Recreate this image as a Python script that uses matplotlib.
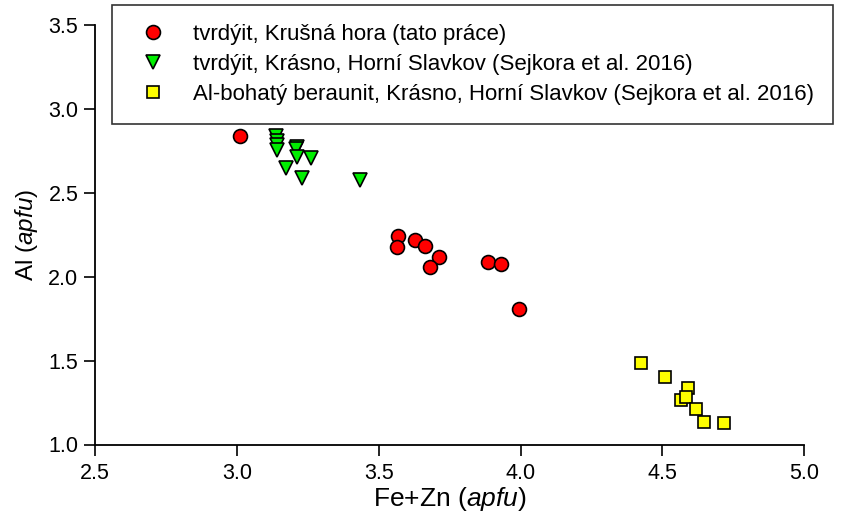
import matplotlib
matplotlib.use("Agg")
import matplotlib.pyplot as plt

plt.rcParams["font.family"] = ["Liberation Sans", "DejaVu Sans"]
plt.rcParams["mathtext.fontset"] = "custom"
plt.rcParams["mathtext.rm"] = "Liberation Sans"
plt.rcParams["mathtext.it"] = "Liberation Sans:italic"

# tvrdýit, Krušná hora (tato práce)
kh_fezn = [3.011, 3.569, 3.566, 3.629, 3.664, 3.711, 3.682, 3.885, 3.931, 3.995]
kh_al = [2.838, 2.244, 2.179, 2.220, 2.183, 2.119, 2.058, 2.089, 2.074, 1.809]

# tvrdýit, Krásno, Horní Slavkov (Sejkora et al. 2016)
kr_fezn = [3.138, 3.140, 3.140, 3.140, 3.213, 3.207, 3.213, 3.260, 3.173, 3.231, 3.435]
kr_al = [2.838, 2.810, 2.785, 2.755, 2.775, 2.761, 2.715, 2.706, 2.650, 2.590, 2.576]

# Al-bohatý beraunit, Krásno, Horní Slavkov (Sejkora et al. 2016)
ber_fezn = [4.425, 4.508, 4.591, 4.566, 4.582, 4.620, 4.648, 4.716]
ber_al = [1.484, 1.402, 1.335, 1.263, 1.281, 1.212, 1.132, 1.126]

labels = [
    "tvrdýit, Krušná hora (tato práce)",
    "tvrdýit, Krásno, Horní Slavkov (Sejkora et al. 2016)",
    "Al-bohatý beraunit, Krásno, Horní Slavkov (Sejkora et al. 2016)",
]
x_ticks = [2.5, 3.0, 3.5, 4.0, 4.5, 5.0]
y_ticks = [1.0, 1.5, 2.0, 2.5, 3.0, 3.5]

fig = plt.figure(figsize=(8.44, 5.21), dpi=100)
ax = fig.add_axes([95 / 844, 1 - 444.5 / 521, (804.3 - 95) / 844, (444.5 - 25) / 521])

ax.plot(kh_fezn, kh_al, "o", ms=10, mfc="red", mec="black", mew=1.2, label=labels[0], ls="none")
ax.plot(kr_fezn, kr_al, "v", ms=10.5, mfc="#00ee00", mec="black", mew=1.2, label=labels[1], ls="none")
ax.plot(ber_fezn, ber_al, "s", ms=9, mfc="yellow", mec="black", mew=1.2, label=labels[2], ls="none")

ax.set_xlim(2.5, 5.0)
ax.set_ylim(1.0, 3.5)
ax.spines["top"].set_visible(False)
ax.spines["right"].set_visible(False)
for s in ("left", "bottom"):
    ax.spines[s].set_linewidth(1.3)
ax.tick_params(axis="y", direction="out", length=8, width=1.2, pad=4)
ax.tick_params(axis="x", direction="out", length=8, width=1.2, pad=5)
ax.set_xticks(x_ticks)
ax.set_yticks(y_ticks)
ax.set_xticklabels([f"{v:.1f}" for v in x_ticks], fontsize=15.5)
ax.set_yticklabels([f"{v:.1f}" for v in y_ticks], fontsize=15.5)

ax.set_xlabel(r"Fe+Zn ($\mathit{apfu}$)", fontsize=19, labelpad=1)
ax.set_ylabel(r"Al ($\mathit{apfu}$)", fontsize=17.5, labelpad=6)

leg = fig.legend(
    loc="upper left",
    bbox_to_anchor=(112 / 844, 1 - 5 / 521),
    fontsize=16,
    frameon=True,
    fancybox=False,
    borderpad=0.85,
    labelspacing=0.4,
    handletextpad=0.8,
    borderaxespad=0,
    handlelength=2.0,
)
leg.get_frame().set_edgecolor("black")
leg.get_frame().set_linewidth(1.2)

fig.savefig("out.png", dpi=100)
